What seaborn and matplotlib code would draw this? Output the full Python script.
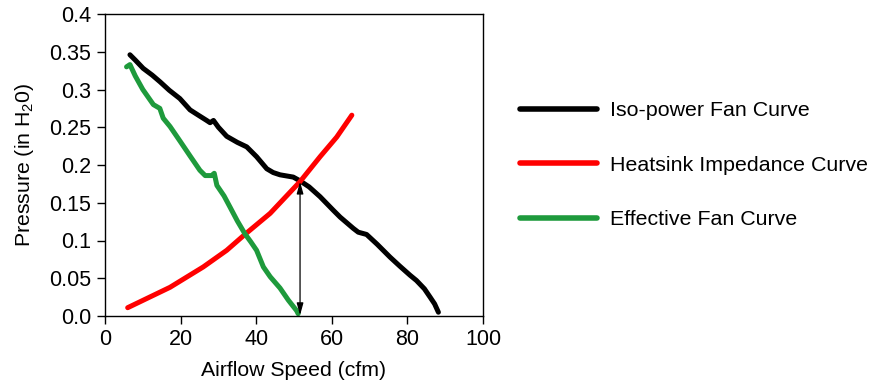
import matplotlib
matplotlib.use("Agg")
import matplotlib.pyplot as plt
import seaborn as sns
import pandas as pd

# ---- data ----
iso_x = [6.6, 8.0, 10.1, 12.5, 14.6, 17.0, 19.8, 22.5, 25.0, 26.9, 27.8, 28.7, 30.0,
         32.2, 35.0, 37.5, 40.1, 42.8, 44.5, 46.3, 49.8, 51.6, 54.0, 56.9, 60.4,
         62.2, 65.7, 67.0, 69.2, 72.0, 75.4, 78.0, 80.7, 82.4, 84.5, 86.0, 87.2, 88.2]
iso_y = [0.346, 0.339, 0.328, 0.319, 0.310, 0.299, 0.288, 0.273, 0.265, 0.259, 0.256,
         0.259, 0.250, 0.238, 0.230, 0.224, 0.211, 0.195, 0.190, 0.187, 0.184, 0.179,
         0.171, 0.158, 0.140, 0.131, 0.116, 0.111, 0.108, 0.095, 0.078, 0.066, 0.054,
         0.047, 0.036, 0.025, 0.016, 0.005]

hs_x = [6.0, 17.2, 26.0, 32.2, 37.0, 43.7, 51.6, 56.9, 61.3, 65.3]
hs_y = [0.011, 0.038, 0.065, 0.087, 0.108, 0.136, 0.178, 0.211, 0.237, 0.266]

eff_x = [5.7, 6.6, 8.0, 10.0, 12.8, 14.5, 15.4, 17.2, 19.8, 22.5, 25.1, 26.5, 28.2,
         28.9, 29.6, 31.5, 33.1, 35.0, 37.0, 38.6, 40.1, 41.9, 43.7, 46.3, 48.5, 50.7, 51.1]
eff_y = [0.330, 0.333, 0.318, 0.300, 0.280, 0.275, 0.262, 0.251, 0.232, 0.212, 0.193,
         0.186, 0.186, 0.189, 0.173, 0.159, 0.144, 0.126, 0.109, 0.098, 0.087, 0.065,
         0.052, 0.037, 0.021, 0.007, 0.003]

op_x = 51.6
op_y = 0.178

series_names = ["Iso-power Fan Curve", "Heatsink Impedance Curve", "Effective Fan Curve"]
colors = ["#000000", "#ff0000", "#1e9a3c"]

x_ticks = [0, 20, 40, 60, 80, 100]
y_ticks = [0.0, 0.05, 0.1, 0.15, 0.2, 0.25, 0.3, 0.35, 0.4]
y_tick_labels = ["0.0", "0.05", "0.1", "0.15", "0.2", "0.25", "0.3", "0.35", "0.4"]

# ---- style ----
sns.set_style("ticks")
plt.rcParams["font.family"] = ["Liberation Sans", "DejaVu Sans"]
plt.rcParams["mathtext.fontset"] = "custom"
plt.rcParams["mathtext.rm"] = "Liberation Sans"
plt.rcParams["mathtext.it"] = "Liberation Sans:italic"
plt.rcParams["text.color"] = "black"
plt.rcParams["axes.labelcolor"] = "black"

fig = plt.figure(figsize=(8.72, 3.85), dpi=100)
ax = fig.add_axes([105 / 872, 1 - 316 / 385, (483 - 105) / 872, (316 - 14) / 385])

for name, xs, ys, c in zip(series_names, [iso_x, hs_x, eff_x], [iso_y, hs_y, eff_y], colors):
    df = pd.DataFrame({"x": xs, "y": ys})
    sns.lineplot(data=df, x="x", y="y", ax=ax, color=c, lw=3.6, sort=False,
                 estimator=None, label=name, solid_capstyle="round",
                 solid_joinstyle="round")

ax.annotate("", xy=(op_x, 0.001), xytext=(op_x, op_y),
            arrowprops=dict(arrowstyle="<|-|>,head_length=0.8,head_width=0.22",
                            lw=0.9, color="black", mutation_scale=9,
                            shrinkA=0, shrinkB=0))

ax.set_xlim(0, 100)
ax.set_ylim(0, 0.4)
ax.set_xticks(x_ticks)
ax.set_yticks(y_ticks)
ax.set_yticklabels(y_tick_labels)
ax.tick_params(axis="both", direction="out", length=6, width=1, labelsize=15.5,
               colors="black")
ax.tick_params(axis="x", pad=3.5)
ax.tick_params(axis="y", pad=4)
for s in ax.spines.values():
    s.set_visible(True)
    s.set_color("black")
    s.set_linewidth(1)

ax.set_xlabel("Airflow Speed (cfm)", fontsize=15.3, labelpad=8)
ax.set_ylabel("Pressure (in H$_2$0)", fontsize=15.3, labelpad=9)

leg = ax.legend(loc="upper left", bbox_to_anchor=(520 / 872, 1 - 101 / 385),
                bbox_transform=fig.transFigure, frameon=False, fontsize=15.4,
                handlelength=3.6, handletextpad=0.6, labelspacing=1.66,
                borderaxespad=0, borderpad=0)
for h in leg.get_lines():
    h.set_linewidth(4)

fig.savefig("out.png", dpi=100)
